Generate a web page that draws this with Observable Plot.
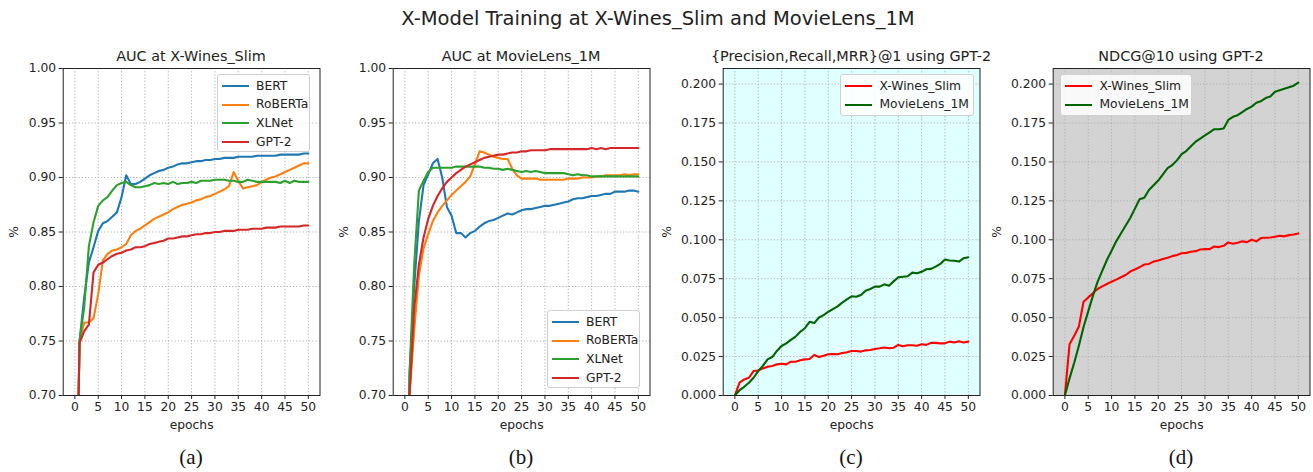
<!DOCTYPE html>
<html><head><meta charset="utf-8">
<script src="https://cdn.jsdelivr.net/npm/d3@7"></script>
<script src="https://cdn.jsdelivr.net/npm/@observablehq/plot@0.6"></script>
<style>
body{margin:0;background:#fff;}
#fig{position:relative;width:1313px;height:472px;font-family:"DejaVu Sans",sans-serif;color:#222;overflow:hidden;background:#fff}
.abs{position:absolute;white-space:nowrap}
.ptitle{font-size:14.4px;transform:translateX(-50%);}
.sub{font-family:"Liberation Serif",serif;font-size:21px;transform:translateX(-50%);color:#111}
.leg{position:absolute;background:rgba(255,255,255,0.85);border:1px solid #d0d0d0;border-radius:3px;box-sizing:border-box}
.leg .sw{position:absolute;height:2px;}
.leg .lt{position:absolute;font-size:12.3px;line-height:14px;color:#222}
svg{overflow:visible}
</style></head><body><div id="fig"></div>
<script>
const epochs = [0,1,2,3,4,5,6,7,8,9,10,11,12,13,14,15,16,17,18,19,20,21,22,23,24,25,26,27,28,29,30,31,32,33,34,35,36,37,38,39,40,41,42,43,44,45,46,47,48,49,50];
const xTicks = [0,5,10,15,20,25,30,35,40,45,50];
const aucTicks = [0.70,0.75,0.80,0.85,0.90,0.95,1.00];
const metricTicks = [0,0.025,0.05,0.075,0.1,0.125,0.15,0.175,0.2];

const modelNames = ["BERT","RoBERTa","XLNet","GPT-2"];
const modelColors = ["#1f77b4","#ff7f0e","#2ca02c","#d62728"];
const datasetNames = ["X-Wines_Slim","MovieLens_1M"];
const datasetColors = ["#ff0000","#006400"];

// (a) AUC at X-Wines_Slim
const winesBert = [0.5,0.750,0.790,0.822,0.836,0.851,0.858,0.860,0.864,0.868,0.882,0.902,0.894,0.894,0.896,0.899,0.902,0.904,0.906,0.907,0.909,0.910,0.912,0.913,0.913,0.914,0.915,0.915,0.916,0.916,0.917,0.917,0.918,0.918,0.918,0.919,0.919,0.919,0.919,0.920,0.920,0.920,0.920,0.920,0.921,0.921,0.921,0.921,0.921,0.922,0.922];
const winesRoberta = [0.5,0.750,0.767,0.767,0.771,0.793,0.824,0.830,0.833,0.834,0.836,0.839,0.847,0.851,0.853,0.856,0.859,0.862,0.864,0.866,0.868,0.871,0.873,0.875,0.876,0.877,0.879,0.880,0.882,0.883,0.885,0.887,0.889,0.892,0.905,0.897,0.890,0.891,0.892,0.893,0.896,0.898,0.900,0.901,0.903,0.905,0.907,0.909,0.911,0.913,0.913];
const winesXlnet = [0.5,0.750,0.781,0.837,0.859,0.874,0.879,0.882,0.888,0.893,0.895,0.896,0.893,0.891,0.891,0.892,0.893,0.895,0.894,0.895,0.894,0.896,0.894,0.895,0.895,0.896,0.895,0.897,0.897,0.897,0.898,0.898,0.898,0.897,0.897,0.896,0.896,0.898,0.897,0.896,0.896,0.896,0.896,0.896,0.895,0.897,0.895,0.897,0.896,0.896,0.896];
const winesGpt2 = [0.5,0.748,0.759,0.765,0.813,0.820,0.822,0.825,0.828,0.830,0.831,0.833,0.834,0.836,0.836,0.837,0.839,0.840,0.841,0.842,0.844,0.844,0.845,0.846,0.846,0.847,0.848,0.848,0.849,0.849,0.850,0.850,0.851,0.851,0.851,0.852,0.852,0.852,0.853,0.853,0.853,0.854,0.854,0.854,0.855,0.855,0.855,0.855,0.855,0.856,0.856];

// (b) AUC at MovieLens_1M
const movieBert = [0.5,0.72,0.80,0.860,0.893,0.903,0.913,0.917,0.900,0.873,0.865,0.849,0.849,0.845,0.849,0.851,0.855,0.858,0.860,0.861,0.863,0.865,0.867,0.866,0.868,0.870,0.871,0.871,0.872,0.873,0.874,0.874,0.875,0.876,0.877,0.878,0.880,0.881,0.881,0.882,0.883,0.883,0.884,0.885,0.885,0.887,0.887,0.887,0.888,0.888,0.887];
const movieRoberta = [0.5,0.70,0.76,0.81,0.835,0.848,0.860,0.868,0.874,0.879,0.884,0.888,0.892,0.896,0.901,0.912,0.924,0.923,0.921,0.919,0.918,0.917,0.917,0.908,0.902,0.899,0.899,0.899,0.899,0.898,0.898,0.898,0.898,0.898,0.898,0.899,0.899,0.899,0.900,0.900,0.900,0.901,0.901,0.902,0.902,0.902,0.902,0.903,0.902,0.903,0.903];
const movieXlnet = [0.5,0.72,0.82,0.888,0.897,0.905,0.909,0.909,0.909,0.909,0.909,0.910,0.910,0.910,0.910,0.910,0.910,0.909,0.909,0.908,0.908,0.907,0.908,0.907,0.906,0.905,0.906,0.905,0.906,0.905,0.904,0.904,0.904,0.904,0.904,0.903,0.902,0.903,0.902,0.902,0.901,0.901,0.901,0.901,0.901,0.901,0.901,0.901,0.901,0.901,0.901];
const movieGpt2 = [0.5,0.70,0.78,0.82,0.845,0.862,0.874,0.883,0.890,0.896,0.900,0.904,0.907,0.910,0.912,0.914,0.916,0.918,0.919,0.920,0.921,0.921,0.922,0.923,0.923,0.924,0.924,0.925,0.925,0.925,0.925,0.926,0.926,0.926,0.926,0.926,0.926,0.926,0.926,0.926,0.927,0.926,0.927,0.926,0.927,0.927,0.927,0.927,0.927,0.927,0.927];

// (c) {Precision,Recall,MRR}@1 using GPT-2
const prmWines = [0,0.0082,0.0103,0.0114,0.0157,0.0161,0.0174,0.0185,0.019,0.020,0.0204,0.020,0.0217,0.0217,0.0226,0.0232,0.0234,0.026,0.0247,0.0256,0.0265,0.0267,0.0265,0.0273,0.0277,0.0286,0.0286,0.0282,0.029,0.0292,0.0299,0.0303,0.0308,0.0303,0.0307,0.0325,0.0316,0.0323,0.0323,0.032,0.0329,0.0325,0.0338,0.0338,0.0335,0.0335,0.0346,0.034,0.0348,0.034,0.0346];
const prmMovie = [0,0.0034,0.0056,0.0082,0.0114,0.0157,0.019,0.0232,0.0247,0.0286,0.0318,0.0335,0.0357,0.0378,0.0409,0.0432,0.0473,0.0465,0.0501,0.0516,0.0538,0.0555,0.0572,0.0596,0.0617,0.0637,0.0634,0.0645,0.0673,0.0684,0.0699,0.0699,0.0714,0.0705,0.0733,0.0759,0.0763,0.0766,0.0789,0.0785,0.0794,0.0811,0.0813,0.0828,0.0845,0.0873,0.0867,0.0865,0.086,0.0882,0.0888];

// (d) NDCG@10 using GPT-2
const ndcgWines = [0,0.0329,0.0383,0.0443,0.0602,0.063,0.0656,0.0684,0.0701,0.0716,0.0731,0.0744,0.0759,0.0774,0.0796,0.0809,0.0824,0.0841,0.0845,0.086,0.0867,0.0877,0.0884,0.0895,0.0903,0.0914,0.0916,0.0923,0.0927,0.0938,0.094,0.094,0.0957,0.0953,0.0961,0.0983,0.0975,0.0981,0.099,0.0985,0.1,0.099,0.1011,0.1013,0.1015,0.1019,0.1026,0.1022,0.103,0.1034,0.1041];
const ndcgMovie = [0,0.011,0.021,0.032,0.044,0.054,0.064,0.073,0.080,0.087,0.093,0.099,0.104,0.109,0.114,0.120,0.126,0.127,0.132,0.135,0.138,0.142,0.146,0.148,0.151,0.155,0.157,0.160,0.163,0.165,0.167,0.169,0.171,0.171,0.1715,0.177,0.179,0.180,0.182,0.184,0.1855,0.188,0.189,0.191,0.192,0.195,0.196,0.197,0.198,0.199,0.201];

const fig = document.getElementById("fig");

function addDiv(cls, text, left, top, style = "") {
  const d = document.createElement("div");
  d.className = "abs " + cls;
  d.textContent = text;
  d.style.cssText += `left:${left}px;top:${top}px;` + style;
  fig.appendChild(d);
  return d;
}

function toRows(names, seriesList) {
  const rows = [];
  names.forEach((n, k) => seriesList[k].forEach((v, i) => rows.push({epoch: epochs[i], value: v, series: n})));
  return rows;
}

function panel(idx, {title, names, colors, series, yDomain, yTicks, yFormat, bg, yLabelOffset}) {
  const rows = toRows(names, series);
  const marks = [];
  if (bg) marks.push(Plot.frame({fill: bg, stroke: null}));
  marks.push(
    Plot.gridX(xTicks, {stroke: "#b0b0b0", strokeOpacity: 1, strokeWidth: 1, strokeDasharray: "1.2,2"}),
    Plot.gridY(yTicks, {stroke: "#b0b0b0", strokeOpacity: 1, strokeWidth: 1, strokeDasharray: "1.2,2"}),
    Plot.line(rows, {x: "epoch", y: "value", z: "series", stroke: "series", strokeWidth: 2.1, clip: true}),
    Plot.frame({stroke: "#222", strokeWidth: 1}),
    Plot.axisX(xTicks, {tickSize: 4, tickPadding: 3, fontSize: 12.3, label: "epochs", labelAnchor: "center", labelArrow: "none", labelOffset: 33, stroke: "#222"}),
    Plot.axisY(yTicks, {tickSize: 4, tickPadding: 3, fontSize: 12.3, tickFormat: yFormat, label: "%", labelAnchor: "center", labelArrow: "none", labelOffset: yLabelOffset, stroke: "#222"})
  );
  const svg = Plot.plot({
    width: 330, height: 440,
    marginLeft: 62.7, marginRight: 10.5, marginTop: 68, marginBottom: 45,
    style: {fontFamily: "DejaVu Sans, sans-serif", fontSize: "12px", color: "#222", background: "transparent"},
    x: {domain: [-2.5, 52.5]},
    y: {domain: yDomain},
    color: {domain: names, range: colors},
    marks
  });
  svg.style.position = "absolute";
  svg.style.left = (idx * 330) + "px";
  svg.style.top = "0px";
  fig.appendChild(svg);
  addDiv("ptitle", title, idx * 330 + 191, 48);
}

function legend(left, top, width, height, names, colors) {
  const box = document.createElement("div");
  box.className = "leg";
  box.style.cssText = `left:${left}px;top:${top}px;width:${width}px;height:${height}px;`;
  names.forEach((n, k) => {
    const cy = 11 + k * 18.7;
    const sw = document.createElement("div");
    sw.className = "sw";
    sw.style.cssText = `left:4px;width:27px;top:${cy - 1}px;background:${colors[k]};`;
    box.appendChild(sw);
    const t = document.createElement("div");
    t.className = "lt";
    t.textContent = n;
    t.style.cssText = `left:38.5px;top:${cy - 7.5}px;`;
    box.appendChild(t);
  });
  fig.appendChild(box);
}

const f2 = d3.format(".2f"), f3 = d3.format(".3f");

panel(0, {title: "AUC at X-Wines_Slim", names: modelNames, colors: modelColors,
  series: [winesBert, winesRoberta, winesXlnet, winesGpt2], yDomain: [0.7, 1.0], yTicks: aucTicks, yFormat: f2, yLabelOffset: 54});
panel(1, {title: "AUC at MovieLens_1M", names: modelNames, colors: modelColors,
  series: [movieBert, movieRoberta, movieXlnet, movieGpt2], yDomain: [0.7, 1.0], yTicks: aucTicks, yFormat: f2, yLabelOffset: 54});
panel(2, {title: "{Precision,Recall,MRR}@1 using GPT-2", names: datasetNames, colors: datasetColors,
  series: [prmWines, prmMovie], yDomain: [0, 0.21], yTicks: metricTicks, yFormat: f3, bg: "#e0ffff", yLabelOffset: 61});
panel(3, {title: "NDCG@10 using GPT-2", names: datasetNames, colors: datasetColors,
  series: [ndcgWines, ndcgMovie], yDomain: [0, 0.21], yTicks: metricTicks, yFormat: f3, bg: "#d3d3d3", yLabelOffset: 61});

legend(216.5, 74, 93, 78, modelNames, modelColors);
legend(546.5, 310, 93, 78, modelNames, modelColors);
legend(840, 74, 134, 42, datasetNames, datasetColors);
legend(1060, 74, 132, 42, datasetNames, datasetColors);

addDiv("", "X-Model Training at X-Wines_Slim and MovieLens_1M", 658, 7, "font-size:19.5px;transform:translateX(-50%);");
["(a)","(b)","(c)","(d)"].forEach((s, i) => addDiv("sub", s, i * 330 + 191, 445));
</script></body></html>
